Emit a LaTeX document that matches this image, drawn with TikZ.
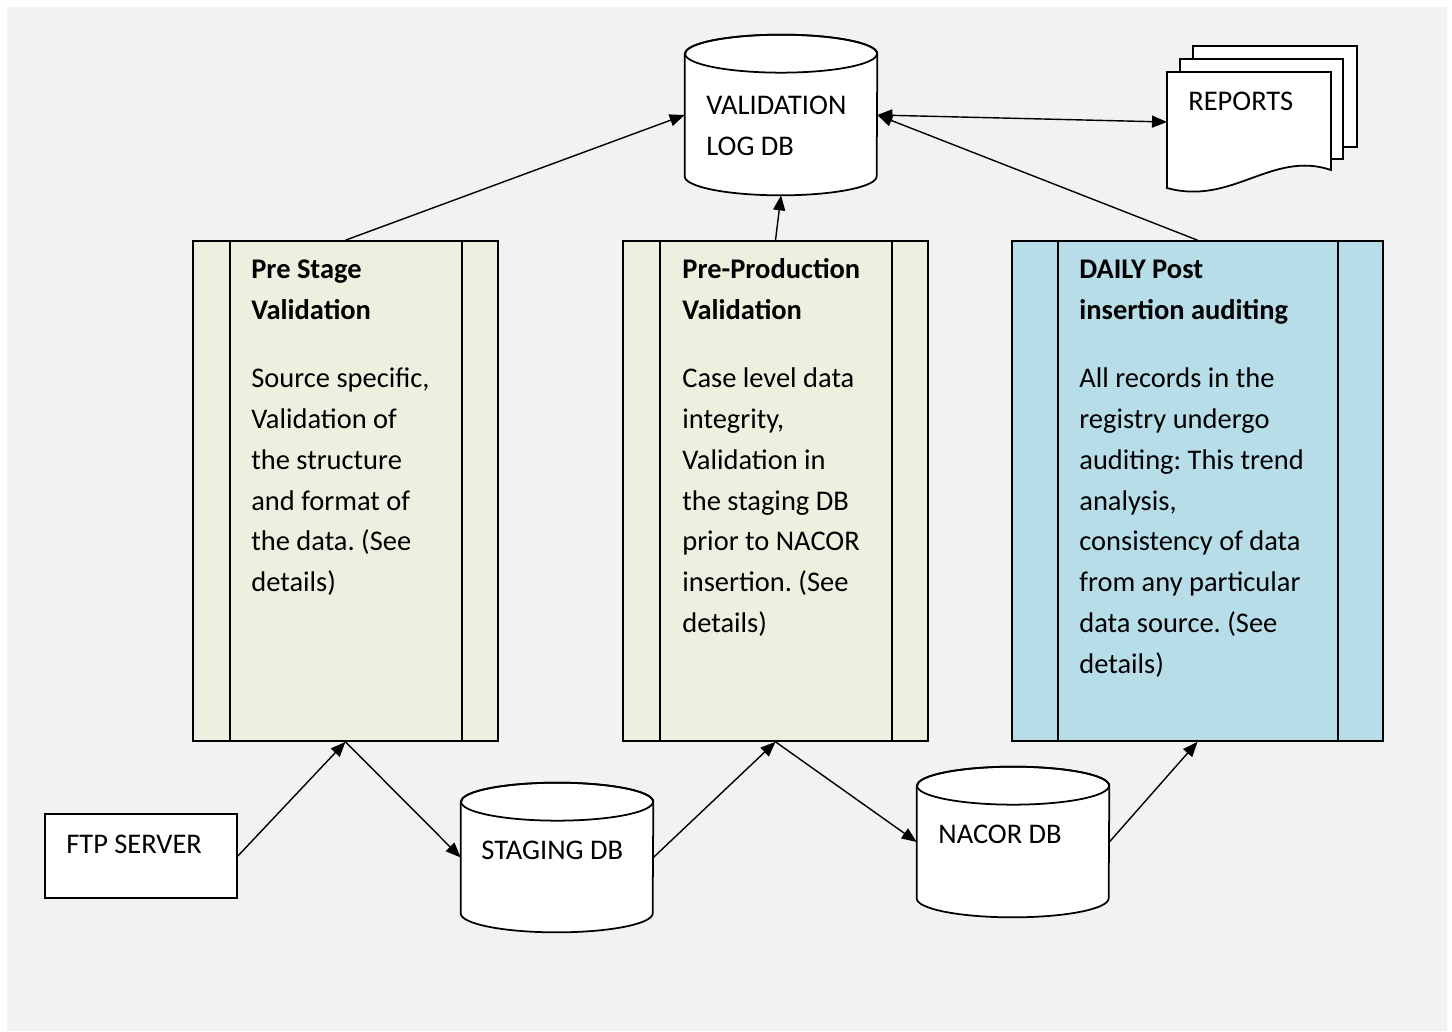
\documentclass[tikz,border=0pt]{standalone}
\usepackage{fontspec}
\setmainfont{Carlito}
\usetikzlibrary{arrows.meta}

\definecolor{pagegray}{HTML}{F2F2F2}
\definecolor{olivelight}{HTML}{EBF1DE}
\definecolor{aqualight}{HTML}{B7DDE8}

\tikzset{
  txt/.style={anchor=north west, align=left, inner sep=0pt, font=\fontsize{16.2}{23.3}\selectfont\frenchspacing},
  procbox/.style={draw, line width=1pt, minimum height=10cm, inner sep=0pt},
  dbbox/.style={minimum width=3.84cm, inner sep=0pt},
  dbline/.style={draw, fill=white, line width=1pt},
  plainbox/.style={draw, fill=white, line width=1pt, minimum width=3.84cm, minimum height=1.68cm, inner sep=0pt},
  conn/.style={-{Triangle[length=0.3cm,width=0.24cm]}, line width=0.8pt},
  biconn/.style={{Triangle[length=0.3cm,width=0.24cm]}-{Triangle[length=0.3cm,width=0.24cm]}, line width=0.8pt}
}

% first line strut, so north = baseline + 20px
\newcommand{\fl}{\rule{0pt}{0.4cm}}

% cylinder drawn over a named node
\newcommand{\drawdb}[1]{%
  \filldraw[dbline] ([yshift=-0.38cm]#1.north west) -- ([yshift=0.38cm]#1.south west)
    arc[start angle=180, end angle=360, x radius=1.92cm, y radius=0.38cm]
    -- ([yshift=-0.38cm]#1.north east)
    arc[start angle=0, end angle=180, x radius=1.92cm, y radius=0.38cm] -- cycle;
  \draw[line width=1pt] ([yshift=-0.38cm]#1.north) ellipse[x radius=1.92cm, y radius=0.38cm];
}

\begin{document}
\begin{tikzpicture}[x=0.02cm, y=-0.02cm]
    % Page and background
    \fill[white] (0,0) rectangle (1452,1031);
    \useasboundingbox (0,0) rectangle (1452,1031);
    \fill[pagegray] (7,7) rectangle (1447,1031);

    % Process boxes
    \node[procbox, fill=olivelight, minimum width=6.1cm] (prestage) at (345.5,491) {};
    \node[procbox, fill=olivelight, minimum width=6.1cm] (preprod) at (775.5,491) {};
    \node[procbox, fill=aqualight, minimum width=7.42cm] (daily) at (1197.5,491) {};

    % Inner bars of the process boxes
    \draw[line width=1pt] ([xshift=0.76cm]prestage.north west) -- ([xshift=0.76cm]prestage.south west);
    \draw[line width=1pt] ([xshift=-0.74cm]prestage.north east) -- ([xshift=-0.74cm]prestage.south east);
    \draw[line width=1pt] ([xshift=0.76cm]preprod.north west) -- ([xshift=0.76cm]preprod.south west);
    \draw[line width=1pt] ([xshift=-0.74cm]preprod.north east) -- ([xshift=-0.74cm]preprod.south east);
    \draw[line width=1pt] ([xshift=0.94cm]daily.north west) -- ([xshift=0.94cm]daily.south west);
    \draw[line width=1pt] ([xshift=-0.92cm]daily.north east) -- ([xshift=-0.92cm]daily.south east);

    % Databases
    \node[dbbox, minimum height=3.2cm] (valdb) at (781,115) {};
    \drawdb{valdb}
    \node[dbbox, minimum height=2.98cm] (staging) at (557,857.5) {};
    \drawdb{staging}
    \node[dbbox, minimum height=3cm] (nacor) at (1013,842) {};
    \drawdb{nacor}

    % FTP server
    \node[plainbox] (ftp) at (141,856) {};

    % Reports (stacked pages)
    \filldraw[dbline] (1193,46) rectangle (1357,147);
    \filldraw[dbline] (1180,59) rectangle (1343,159);
    \filldraw[dbline] (1167,72) -- (1331,72) -- (1331,170)
        .. controls (1272,150) and (1232,206) .. (1167,188) -- cycle;
    \coordinate (repin) at (1167,122);

    % Texts (placed at first baseline - 20)
    \node[txt] (valdbtxt) at (706,94) {\fl VALIDATION\\LOG DB};
    \node[txt] (stagingtxt) at (481,839) {\fl STAGING DB};
    \node[txt] (nacortxt) at (938,823) {\fl NACOR DB};
    \node[txt] (ftptxt) at (66,833) {\fl FTP SERVER};
    \node[txt] (reportstxt) at (1188,90) {\fl REPORTS};

    \node[txt] (prestagetxt) at (251,258) {
        \fl\textbf{Pre Stage}\\
        \textbf{Validation}\\[0.54cm]
        Source specific,\\
        Validation of\\
        the structure\\
        and format of\\
        the data. (See\\
        details)
    };
    \node[txt] (preprodtxt) at (682,258) {
        \fl\textbf{Pre-Production}\\
        \textbf{Validation}\\[0.54cm]
        Case level data\\
        integrity,\\
        Validation in\\
        the staging DB\\
        prior to NACOR\\
        insertion. (See\\
        details)
    };
    \node[txt] (dailytxt) at (1079,258) {
        \fl\textbf{DAILY Post}\\
        \textbf{insertion auditing}\\[0.54cm]
        All records in the\\
        registry undergo\\
        auditing: This trend\\
        analysis,\\
        consistency of data\\
        from any particular\\
        data source. (See\\
        details)
    };

    % Connectors
    \draw[conn] (prestage.north) -- (valdb.west);
    \draw[conn] (preprod.north) -- (valdb.south);
    \draw[conn] (daily.north) -- (valdb.east);
    \draw[biconn] (valdb.east) -- (repin);
    \draw[conn] (ftp.east) -- (prestage.south);
    \draw[conn] (prestage.south) -- (staging.west);
    \draw[conn] (staging.east) -- (preprod.south);
    \draw[conn] (preprod.south) -- (nacor.west);
    \draw[conn] (nacor.east) -- (daily.south);
\end{tikzpicture}
\end{document}
